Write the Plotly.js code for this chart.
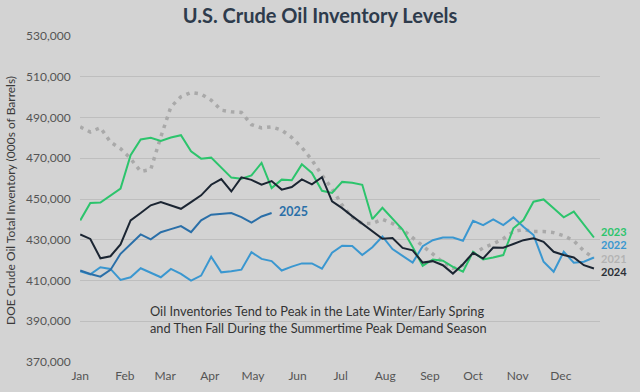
<!DOCTYPE html>
<html>
<head>
<meta charset="utf-8">
<script src="https://cdn.plot.ly/plotly-3.0.1.min.js"></script>
<style>html,body{margin:0;padding:0;background:#d3d3d3;}#chart{width:640px;height:392px;}</style>
</head>
<body>
<div id="chart"></div>
<script>
// Weekly observation dates (one calendar year used as a common x axis)
var weeks = ['2021-01-01','2021-01-08','2021-01-15','2021-01-22','2021-01-29','2021-02-05','2021-02-12','2021-02-19','2021-02-26',
  '2021-03-05','2021-03-12','2021-03-19','2021-03-26','2021-04-02','2021-04-09','2021-04-16','2021-04-23','2021-04-30',
  '2021-05-07','2021-05-14','2021-05-21','2021-05-28','2021-06-04','2021-06-11','2021-06-18','2021-06-25',
  '2021-07-02','2021-07-09','2021-07-16','2021-07-23','2021-07-30','2021-08-06','2021-08-13','2021-08-20','2021-08-27',
  '2021-09-03','2021-09-10','2021-09-17','2021-09-24','2021-10-01','2021-10-08','2021-10-15','2021-10-22','2021-10-29',
  '2021-11-05','2021-11-12','2021-11-19','2021-11-26','2021-12-03','2021-12-10','2021-12-17','2021-12-24'];

var monthTicks = ['2021-01-01','2021-02-01','2021-03-01','2021-04-01','2021-05-01','2021-06-01',
  '2021-07-01','2021-08-01','2021-09-01','2021-10-01','2021-11-01','2021-12-01'];
var monthLabels = ['Jan','Feb','Mar','Apr','May','Jun','Jul','Aug','Sep','Oct','Nov','Dec'];

// Inventory levels, thousands of barrels
var inv2021 = [485400,482900,485000,478000,474700,469800,463500,464500,480500,495200,500200,502300,501500,498500,493600,492800,
  492500,486500,484900,485400,483800,480200,475300,469100,461700,455000,447000,441000,438000,438000,440000,438000,435000,
  431000,427000,422500,419000,416000,417500,423000,426000,428000,430500,434000,435000,434000,434000,433500,432000,429500,424500,421000];
var inv2022 = [414500,413000,416500,415700,410300,411600,416000,413700,411600,415700,413200,409900,412400,421700,414000,414500,
  415300,423900,420600,419500,414900,416800,418400,418400,415800,423600,427100,426900,422500,426300,431600,425400,422000,
  418800,426800,429800,431100,431100,429500,439300,437200,440000,437200,441000,436400,432300,419200,414300,424100,418700,419200,421300];
var inv2023 = [439500,448000,448300,451800,455100,471500,479200,480000,478500,480200,481300,473400,469800,470300,465400,460500,
  460000,461600,467700,455400,459500,459200,467000,462800,454000,453000,458400,458000,457000,440100,445700,440500,435000,
  426500,417200,420300,419700,416700,414300,424100,420300,421300,422500,435600,439700,448700,449800,445400,441000,443800,437200,431100];
var inv2024 = [432600,430400,420900,421900,427700,439500,443100,446900,448500,446900,445200,448500,451800,457000,459800,453700,
  460600,459400,457000,458800,454600,455900,459600,457200,460700,448800,445500,441600,438000,434400,430500,430800,426000,
  424800,418800,419500,417500,413400,418000,423600,420800,426200,426100,427900,429800,430700,429000,424100,422500,421300,417500,415900];
var inv2025 = [414900,413200,411900,415200,423100,427700,432600,430200,433700,435200,436700,433700,439500,442300,442700,443100,
  441100,438400,441400,443100];

var seriesNames = ['2021','2022','2023','2024','2025'];
var endLabelOrder = ['2023','2022','2021','2024'];

var FONT = 'Lato, "Open Sans", sans-serif';
var C21 = '#a9a9a9', C22 = '#3a97d0', C23 = '#2cc46c', C24 = '#1b2532', C25 = '#2a6fa8';
var labelColors = {'2023': C23, '2022': C22, '2021': '#b3b3b3', '2024': '#2a2f36'};

var traces = [
  {x: weeks, y: inv2021, name: seriesNames[0], mode: 'lines', line: {color: C21, width: 3.5, dash: '3.5px,5px'}},
  {x: weeks, y: inv2022, name: seriesNames[1], mode: 'lines', line: {color: C22, width: 2}},
  {x: weeks, y: inv2023, name: seriesNames[2], mode: 'lines', line: {color: C23, width: 2}},
  {x: weeks, y: inv2024, name: seriesNames[3], mode: 'lines', line: {color: C24, width: 2}},
  {x: weeks.slice(0, inv2025.length), y: inv2025, name: seriesNames[4], mode: 'lines', line: {color: C25, width: 2}}
];

// stacked end-of-line labels as one block
var endText = endLabelOrder.map(function (n) {
  return '<span style="font-size:11px;color:' + labelColors[n] + '"><b>' + n + '</b></span>';
}).join('<br>');

var layout = {
  width: 640, height: 392,
  margin: {l: 80, r: 40, t: 36, b: 30},
  paper_bgcolor: '#d3d3d3', plot_bgcolor: '#d3d3d3',
  showlegend: false,
  hovermode: false,
  title: {text: '<b>U.S. Crude Oil Inventory Levels</b>', xref: 'container', x: 0.5, xanchor: 'center',
    yref: 'container', y: 0.958, yanchor: 'middle', font: {family: FONT, size: 20, color: '#2e3b4c'}},
  xaxis: {type: 'date', range: ['2020-12-31 20:00', '2021-12-28 05:00'], tickvals: monthTicks, ticktext: monthLabels,
    showgrid: false, zeroline: false, showline: false, ticks: 'outside', ticklen: 3, tickcolor: 'rgba(0,0,0,0)',
    tickfont: {family: FONT, size: 12, color: '#555'}},
  yaxis: {range: [370000, 530000], tick0: 370000, dtick: 20000, tickformat: ',d', showgrid: true, gridcolor: '#bebebe',
    gridwidth: 1, zeroline: false, showline: false, ticks: 'outside', ticklen: 6, tickcolor: 'rgba(0,0,0,0)',
    tickfont: {family: FONT, size: 12, color: '#555'}},
  annotations: [
    {xref: 'paper', yref: 'paper', x: -0.1327, y: 0.497, xanchor: 'center', yanchor: 'middle', textangle: -90,
      showarrow: false, text: 'DOE Crude Oil Total Inventory (000s of Barrels)', font: {family: FONT, size: 12, color: '#3a3a3a'}},
    {xref: 'paper', yref: 'paper', x: 0.1308, y: 0.129, xanchor: 'left', yanchor: 'middle', align: 'left', showarrow: false,
      text: 'Oil Inventories Tend to Peak in the Late Winter/Early Spring<br>and Then Fall During the Summertime Peak Demand Season',
      font: {family: FONT, size: 12.8, color: '#333'}},
    {xref: 'paper', yref: 'y', x: 0.379, y: 443800, xanchor: 'left', yanchor: 'middle', showarrow: false,
      text: '<b>2025</b>', font: {family: FONT, size: 12.5, color: C25}},
    {xref: 'paper', yref: 'y', x: 1.0, y: 424300, xanchor: 'left', yanchor: 'middle', align: 'left', showarrow: false,
      borderpad: 0, text: endText, font: {family: FONT, size: 10.3, color: '#333'}}
  ]
};

Plotly.newPlot('chart', traces, layout, {displayModeBar: false, staticPlot: true});
</script>
</body>
</html>
